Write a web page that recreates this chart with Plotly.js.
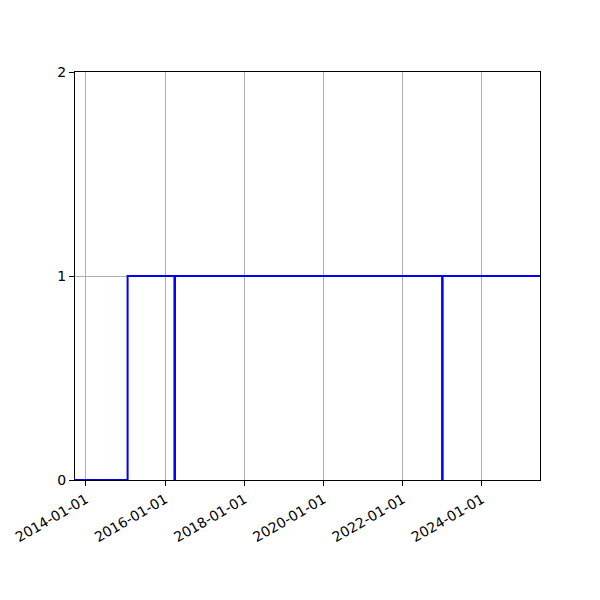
<!DOCTYPE html>
<html>
<head>
<meta charset="utf-8">
<script src="https://cdn.plot.ly/plotly-3.0.1.min.js"></script>
<style>
  html, body { margin: 0; padding: 0; background: #ffffff; }
  #chart { width: 600px; height: 600px; }
</style>
</head>
<body>
<div id="chart"></div>
<script>
// Step series: dates where the state changes, and the state after each date
const dates = ['2013-09-22', '2015-01-20', '2016-03-27', '2016-04-01', '2022-12-29', '2023-01-03', '2025-06-19'];
const states = [0, 1, 0, 1, 0, 1, 1];

const xTicks = ['2014-01-01', '2016-01-01', '2018-01-01', '2020-01-01', '2022-01-01', '2024-01-01'];
const yTicks = [0, 1, 2];

const TEXT_FONT = { family: 'DejaVu Sans, sans-serif', size: 14, color: '#000000' };

const trace = {
  x: dates,
  y: states,
  type: 'scatter',
  mode: 'lines',
  line: { shape: 'hv', color: '#0000ff', width: 2 },
  hoverinfo: 'skip',
};

const layout = {
  width: 600,
  height: 600,
  showlegend: false,
  margin: { l: 75, r: 60, t: 72, b: 120 },
  paper_bgcolor: '#ffffff',
  plot_bgcolor: '#ffffff',
  xaxis: {
    type: 'date',
    range: [dates[0], dates[dates.length - 1]],
    tickvals: xTicks,
    ticktext: xTicks,
    tickangle: -30,
    tickfont: TEXT_FONT,
    ticks: 'outside',
    ticklen: 5,
    tickcolor: '#000000',
    showgrid: true,
    gridcolor: '#b0b0b0',
    gridwidth: 1,
    showline: true,
    linecolor: '#000000',
    linewidth: 1,
    mirror: true,
    zeroline: false,
  },
  yaxis: {
    range: [0, 2],
    tickvals: yTicks,
    ticktext: yTicks.map(String),
    tickfont: TEXT_FONT,
    ticks: 'outside',
    ticklen: 5,
    tickcolor: '#000000',
    showgrid: true,
    gridcolor: '#b0b0b0',
    gridwidth: 1,
    showline: true,
    linecolor: '#000000',
    linewidth: 1,
    mirror: true,
    zeroline: false,
  },
};

Plotly.newPlot('chart', [trace], layout, { displayModeBar: false, staticPlot: true });
</script>
</body>
</html>
